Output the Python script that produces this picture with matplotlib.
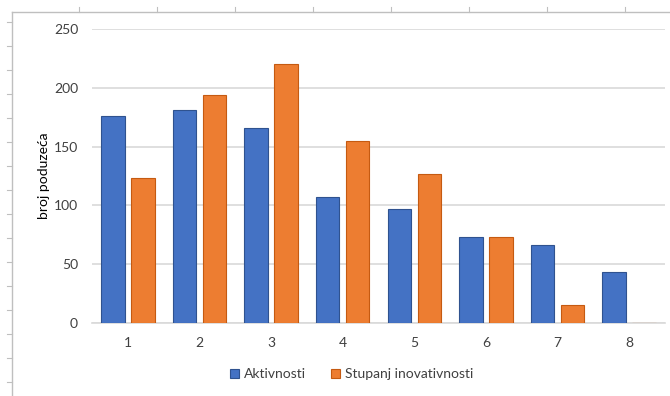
import matplotlib.pyplot as plt
import numpy as np
from matplotlib.lines import Line2D

# Data
categories = ["1", "2", "3", "4", "5", "6", "7", "8"]
aktivnosti = [176, 181, 166, 107, 97, 73, 66, 43]
inovativnost = [123, 194, 220, 155, 127, 73, 15, 0]
y_ticks = [0, 50, 100, 150, 200, 250]

BLUE = "#4472C4"
ORANGE = "#ED7D31"
GRID = "#d9d9d9"
TEXT = "#404040"

plt.rcParams["font.family"] = ["Lato", "DejaVu Sans"]

fig = plt.figure(figsize=(6.7, 3.96), dpi=100)
ax = fig.add_axes([92 / 670, 1 - 323 / 396, 573 / 670, 294 / 396])

x = np.arange(1, len(categories) + 1)
w = 0.328
off = 0.21
ax.bar(x - off, aktivnosti, w, color=BLUE, edgecolor="#2F528F", linewidth=0.8,
       label="Aktivnosti", zorder=3)
ax.bar(x + off, inovativnost, w, color=ORANGE, edgecolor="#C55A11", linewidth=0.8,
       label="Stupanj inovativnosti", zorder=3)

ax.set_xlim(0.5, len(categories) + 0.5)
ax.set_ylim(0, 250)
ax.set_xticks(x)
ax.set_xticklabels(categories)
ax.set_yticks(y_ticks)
ax.tick_params(length=0, labelsize=10, colors=TEXT)
ax.tick_params(axis="x", pad=10)
ax.tick_params(axis="y", pad=10)
ax.yaxis.grid(True, color=GRID, linewidth=1.2, zorder=0)
for side in ["top", "right", "left"]:
    ax.spines[side].set_visible(False)
ax.spines["bottom"].set_color(GRID)
ax.spines["bottom"].set_linewidth(1.2)
ax.set_ylabel("broj poduzeća", fontsize=10, color="#000000", labelpad=3)

leg = fig.legend(loc="center", bbox_to_anchor=(352 / 670, 1 - 374 / 396), ncol=2,
                 frameon=False, fontsize=10, handlelength=0.6, handleheight=0.6,
                 handletextpad=0.4, columnspacing=1.8)
for t in leg.get_texts():
    t.set_color(TEXT)

# sheet frame and ruler ticks around the chart (screenshot artefacts)
W, H = 670, 396
frame = "#bfbfbf"
fig.add_artist(Line2D([12 / W, 1], [1 - 12 / H] * 2, color=frame, lw=1))
fig.add_artist(Line2D([12 / W] * 2, [1 - 12 / H, 0], color=frame, lw=1))
for px in range(79, W, 78):
    fig.add_artist(Line2D([px / W] * 2, [1 - 7 / H, 1 - 12 / H], color=frame, lw=0.8))
for py in range(22, H, 24):
    fig.add_artist(Line2D([7 / W, 12 / W], [1 - py / H] * 2, color=frame, lw=0.8))

fig.savefig("out.png", dpi=100)
